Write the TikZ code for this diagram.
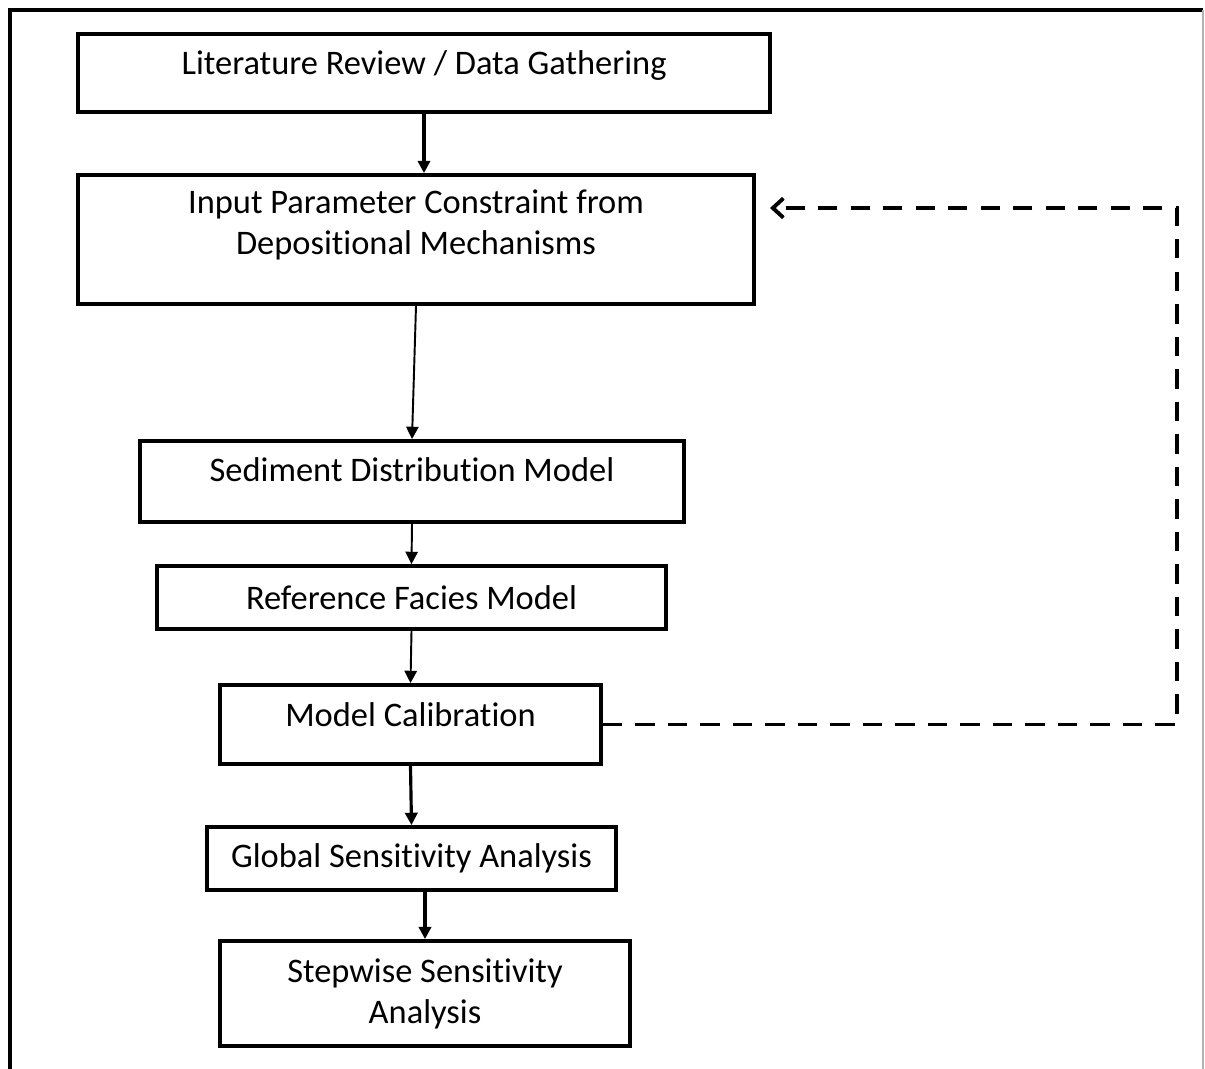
\documentclass[tikz,border=0pt]{standalone}
\usepackage{fontspec}
\setmainfont{Carlito}[Ligatures=NoCommon]
\usetikzlibrary{arrows.meta}

\tikzset{
  stage/.style={draw, line width=2.2pt, align=center, inner sep=0pt,
    font=\fontsize{19.6}{23.3}\selectfont},
  flow/.style={-{Triangle[length=7pt,width=7pt]}, line width=1.1pt},
  flowthick/.style={-{Triangle[length=7pt,width=7pt]}, line width=1.8pt},
  loopback/.style={-{Straight Barb[length=6pt,width=11pt]}, line width=2.2pt,
    dash pattern=on 11pt off 7.5pt}
}

\begin{document}
\begin{tikzpicture}[x=0.02cm, y=-0.02cm]
\useasboundingbox (0,0) rectangle (1205,1069);
% frame
\draw[line width=2.6pt] (10,1069) -- (10,10) -- (1203,10);
\draw[line width=0.6pt, gray!60] (1203,10) -- (1203,1069);

\node[stage, minimum width=13.84cm, minimum height=1.56cm, text depth=0.4cm] (lit) at (424,73) {Literature Review / Data Gathering};
\node[stage, minimum width=13.52cm, minimum height=2.58cm, text depth=0.68cm] (inp) at (416,239.5) {Input Parameter Constraint from\\Depositional Mechanisms};
\node[stage, minimum width=10.88cm, minimum height=1.62cm, text depth=0.48cm] (sed) at (412,481.5) {Sediment Distribution Model};
\node[stage, minimum width=10.18cm, minimum height=1.26cm] (ref) at (411.5,597.5) {Reference Facies Model};
\node[stage, minimum width=7.62cm, minimum height=1.58cm, text depth=0.4cm] (cal) at (410.5,724.5) {Model Calibration};
\node[stage, minimum width=8.18cm, minimum height=1.26cm] (glob) at (411.5,858.5) {Global Sensitivity Analysis};
\node[stage, minimum width=8.2cm, minimum height=2.1cm] (step) at (425,993.5) {Stepwise Sensitivity\\Analysis};

\coordinate (fb) at (1177,724.5);
\coordinate (back) at (770,208);

\draw[flowthick] (lit.south) -- (lit.south |- inp.north);
\draw[flow] (inp.south) -- (sed.north);
\draw[flow] (sed.south) -- (ref.north);
\draw[flow] (ref.south) -- (cal.north);
\draw[flowthick] (cal.south) -- (glob.north);
\draw[flowthick] (glob.south -| step.north) -- (step.north);
\draw[loopback] (cal.east) -- (fb) |- (back);
\end{tikzpicture}
\end{document}
